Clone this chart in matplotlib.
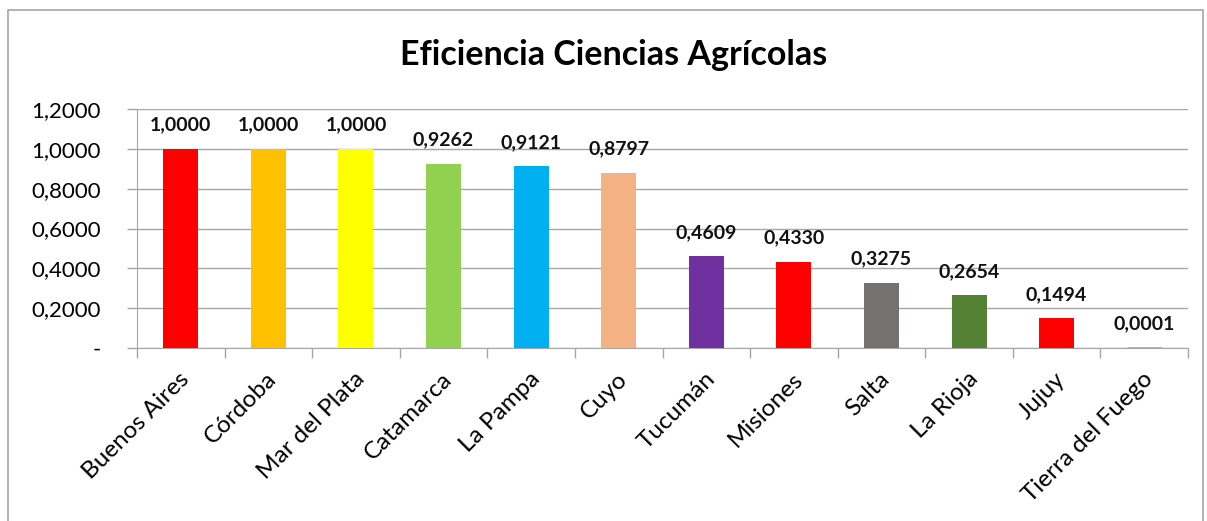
import matplotlib.pyplot as plt
import numpy as np
from matplotlib.patches import Rectangle

plt.rcParams['font.family'] = ['Lato', 'DejaVu Sans']

regiones = ['Buenos Aires', 'Córdoba', 'Mar del Plata', 'Catamarca', 'La Pampa',
            'Cuyo', 'Tucumán', 'Misiones', 'Salta', 'La Rioja', 'Jujuy',
            'Tierra del Fuego']
eficiencia = [1.0000, 1.0000, 1.0000, 0.9262, 0.9121, 0.8797, 0.4609, 0.4330,
              0.3275, 0.2654, 0.1494, 0.0001]
colores = ['#FF0000', '#FFC000', '#FFFF00', '#92D050', '#00B0F0', '#F4B183',
           '#7030A0', '#FF0000', '#767171', '#548235', '#FF0000', '#BFBF2F']
yticks = [0, 0.2, 0.4, 0.6, 0.8, 1.0, 1.2]

fig = plt.figure(figsize=(12.07, 5.21), dpi=100)
ax = fig.add_axes([137 / 1207, 1 - 348 / 521, (1188 - 137) / 1207, (348 - 109) / 521])

# outer chart border
fig.patches.append(Rectangle((8 / 1207, -0.1), (1203 - 8) / 1207, 1.1 - 10 / 521,
                             transform=fig.transFigure, fill=False,
                             edgecolor='#A6A6A6', linewidth=1.2))

x = np.arange(len(regiones))
# tiny values still get a thin visible edge, like Excel draws them
ax.bar(x, eficiencia, width=0.4, color=colores, edgecolor=colores,
       linewidth=[2 if v < 0.01 else 0 for v in eficiencia], zorder=3)

for xi, v in zip(x, eficiencia):
    ax.annotate(f'{v:.4f}'.replace('.', ','), (xi, v), xytext=(0, 11),
                textcoords='offset points', ha='center', va='bottom',
                fontsize=14, fontweight='bold', color='#111111')

ax.set_xlim(-0.5, len(regiones) - 0.5)
ax.set_ylim(0, 1.2)
ax.set_yticks(yticks)
ax.set_yticklabels(['-'] + [f'{t:.4f}'.replace('.', ',') for t in yticks[1:]],
                   fontsize=16)
ax.grid(axis='y', color='#A6A6A6', linewidth=1, zorder=0)

ax.set_xticks(np.arange(-0.5, len(regiones)))
ax.set_xticklabels([])
ax.set_xticks(x + 0.06, minor=True)
ax.set_xticklabels(regiones, minor=True, rotation=45, ha='right',
                   rotation_mode='anchor', va='center', fontsize=17.5)
ax.tick_params(axis='x', which='major', length=7, color='#A6A6A6', width=1)
ax.tick_params(axis='x', which='minor', length=0, pad=20)
ax.tick_params(axis='y', length=7, color='#A6A6A6', width=1, pad=19)

for s in ['top', 'right']:
    ax.spines[s].set_visible(False)
for s in ['left', 'bottom']:
    ax.spines[s].set_color('#A6A6A6')

fig.text(614 / 1207, 1 - 55 / 521, 'Eficiencia Ciencias Agrícolas',
         ha='center', va='center', fontsize=24.5, fontweight='bold')

fig.savefig('out.png', dpi=100)
